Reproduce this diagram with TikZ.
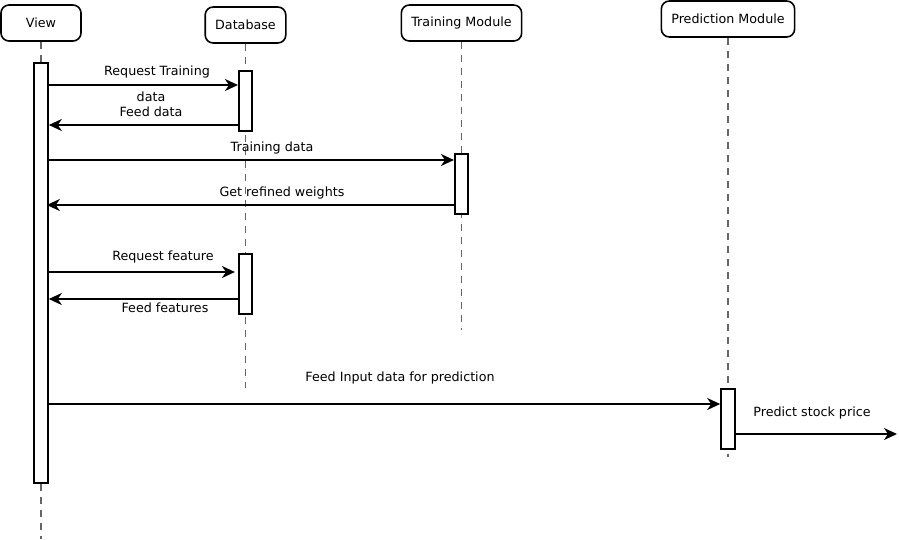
\documentclass[tikz,border=0pt]{standalone}
\usepackage{fontspec}
\setmainfont{DejaVu Sans}
\usepackage{tikz}
\usetikzlibrary{arrows.meta,positioning}
\tikzset{>={Stealth[length=13pt,width=12pt,inset=4pt]}}
\tikzset{head node/.style={draw,rounded corners=8pt,line width=1.6pt,minimum width=80pt,minimum height=36pt,inner xsep=10pt,font=\fontsize{12.7}{15}\selectfont},
            act node/.style={draw,fill=white,line width=1.6pt,minimum width=13.5pt,inner sep=0pt},
            life line/.style={draw=black!60,line width=1.2pt,dash pattern=on 7pt off 6pt},
            msg/.style={draw,line width=1.8pt,->},
            msg label/.style={font=\fontsize{12.7}{15}\selectfont,inner sep=0pt,align=center},
            }
\begin{document}
\begin{tikzpicture}[x=1pt,y=-1pt]
    \useasboundingbox (0,0) rectangle (899,539);

    \node[head node] (view) at (41,23)  {View};
    \node[head node] (db) at (245.5,25) {Database};
    \node[head node] (tm) at (461.5,23) {Training Module};
    \node[head node] (pm) at (728,19) {Prediction Module};

    % ends of lifelines
    \coordinate (viewend) at (41,539);
    \coordinate (dbend) at (245.5,388);
    \coordinate (tmend) at (461.5,330);
    \coordinate (pmend) at (728,457);

    \path[life line] (view) -- (viewend);
    \path[life line] (db) -- (dbend);
    \path[life line] (tm) -- (tmend);
    \path[life line] (pm) -- (pmend);

    \node[act node,minimum height=420pt,minimum width=14pt] (viewact) at (41,273) {};
    \node[act node,minimum height=60pt] (dbact1) at (245.5,101) {};
    \node[act node,minimum height=60pt] (dbact2) at (245.5,284) {};
    \node[act node,minimum height=60pt] (tmact) at (461.5,184) {};
    \node[act node,minimum height=60pt,minimum width=14pt] (pmact) at (728,419) {};

    % rows of the messages
    \coordinate (r1) at (0,85);
    \coordinate (r2) at (0,125);
    \coordinate (r3) at (0,160);
    \coordinate (r4) at (0,205);
    \coordinate (r5) at (0,272);
    \coordinate (r6) at (0,299);
    \coordinate (r7) at (0,404);
    \coordinate (r8) at (0,434);
    \coordinate (out) at (897,434);

    \path[msg] (viewact.east |- r1) -- (dbact1.west |- r1);
    \path[msg] (dbact1.west |- r2) -- (viewact.east |- r2);
    \path[msg] (viewact.east |- r3) -- (tmact.west |- r3);
    \path[msg] (tmact.west |- r4) -- ([xshift=-2pt]viewact.east |- r4);
    \path[msg] (viewact.east |- r5) -- ([xshift=-3pt]dbact2.west |- r5);
    \path[msg] (dbact2.west |- r6) -- (viewact.east |- r6);
    \path[msg] (viewact.east |- r7) -- (pmact.west |- r7);
    \path[msg] (pmact.east |- r8) -- (out);

    \node[msg label] (l1) at (157,72) {Request Training};
    \node[msg label] (l2) at (151,104.5) {data\\Feed data};
    \node[msg label] (l3) at (272,148) {Training data};
    \node[msg label] (l4) at (282,193) {Get refined weights};
    \node[msg label] (l5) at (163,256.5) {Request feature};
    \node[msg label] (l6) at (165,307.5) {Feed features};
    \node[msg label] (l7) at (400,377.5) {Feed Input data for prediction};
    \node[msg label] (l8) at (812,412.5) {Predict stock price};

\end{tikzpicture}
\end{document}
